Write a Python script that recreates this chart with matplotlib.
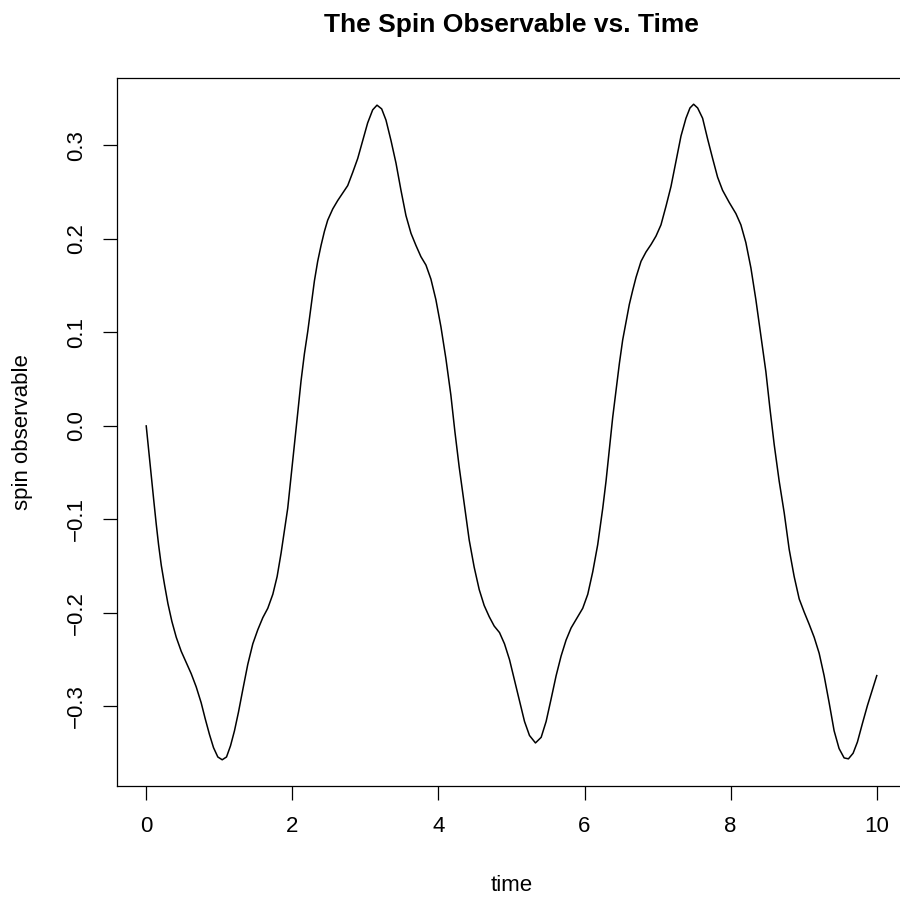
import matplotlib
matplotlib.use("Agg")
import matplotlib.pyplot as plt

time = [0.000, 0.032, 0.069, 0.105, 0.137, 0.169, 0.206, 0.251, 0.297, 0.351, 0.411,
        0.479, 0.547, 0.616, 0.684, 0.752, 0.807, 0.866, 0.921, 0.980, 1.040, 1.099,
        1.154, 1.208, 1.263, 1.322, 1.390, 1.459, 1.527, 1.596, 1.664, 1.733, 1.792,
        1.846, 1.892, 1.937, 1.983, 2.028, 2.074, 2.119, 2.165, 2.211, 2.256, 2.302,
        2.347, 2.393, 2.439, 2.484, 2.553, 2.621, 2.689, 2.758, 2.826, 2.895, 2.963,
        3.031, 3.100, 3.159, 3.223, 3.282, 3.351, 3.419, 3.487, 3.555, 3.624, 3.692,
        3.760, 3.829, 3.897, 3.965, 4.034, 4.102, 4.170, 4.225, 4.284, 4.353, 4.421,
        4.489, 4.558, 4.626, 4.695, 4.763,
        4.836, 4.904, 4.973, 5.041, 5.109, 5.178, 5.246, 5.328, 5.406, 5.474, 5.542,
        5.611, 5.679, 5.747, 5.816, 5.884, 5.975, 6.044, 6.112, 6.180, 6.249, 6.294,
        6.340, 6.385, 6.431, 6.477, 6.522, 6.568, 6.613, 6.659, 6.705, 6.773, 6.841,
        6.910, 6.978, 7.046, 7.115, 7.183, 7.251, 7.320, 7.388, 7.443, 7.493, 7.548,
        7.616, 7.684, 7.753, 7.821, 7.889, 7.980, 8.072, 8.140, 8.208, 8.277, 8.345,
        8.414, 8.482, 8.537, 8.596, 8.664, 8.733, 8.801, 8.869, 8.938, 9.006, 9.074,
        9.143, 9.211, 9.279, 9.348, 9.416, 9.484, 9.553, 9.612, 9.676, 9.735, 9.804,
        9.872, 9.940, 10.000]
spin = [0.000, -0.025, -0.054, -0.081, -0.105, -0.127, -0.149, -0.170, -0.190, -0.209, -0.226,
        -0.241, -0.253, -0.265, -0.279, -0.296, -0.313, -0.330, -0.344, -0.354, -0.357, -0.354,
        -0.342, -0.326, -0.306, -0.282, -0.255, -0.233, -0.218, -0.205, -0.195, -0.180, -0.161,
        -0.136, -0.112, -0.088, -0.054, -0.020, 0.014, 0.048, 0.077, 0.101, 0.128, 0.155,
        0.176, 0.193, 0.208, 0.220, 0.232, 0.241, 0.249, 0.257, 0.271, 0.286, 0.305,
        0.324, 0.338, 0.343, 0.339, 0.327, 0.305, 0.281, 0.252, 0.225, 0.206, 0.193,
        0.181, 0.172, 0.157, 0.135, 0.106, 0.072, 0.033, -0.006, -0.044, -0.083, -0.122,
        -0.151, -0.175, -0.192, -0.204, -0.214,
        -0.221, -0.233, -0.250, -0.272, -0.294, -0.316, -0.331, -0.339, -0.333, -0.316, -0.292,
        -0.267, -0.246, -0.229, -0.216, -0.207, -0.195, -0.180, -0.156, -0.127, -0.088, -0.059,
        -0.025, 0.009, 0.038, 0.067, 0.092, 0.111, 0.130, 0.145, 0.159, 0.176, 0.186,
        0.194, 0.203, 0.215, 0.235, 0.256, 0.283, 0.310, 0.329, 0.340, 0.344, 0.340,
        0.329, 0.307, 0.286, 0.266, 0.252, 0.239, 0.227, 0.215, 0.196, 0.169, 0.135,
        0.096, 0.058, 0.019, -0.020, -0.059, -0.093, -0.132, -0.161, -0.185, -0.199, -0.212,
        -0.226, -0.243, -0.267, -0.296, -0.326, -0.345, -0.355, -0.356, -0.350, -0.338, -0.318,
        -0.299, -0.282, -0.267]
xticks = [0, 2, 4, 6, 8, 10]
yticks = [-0.3, -0.2, -0.1, 0.0, 0.1, 0.2, 0.3]
ytick_labels = ["\u22120.3", "\u22120.2", "\u22120.1", "0.0", "0.1", "0.2", "0.3"]

plt.rcParams['font.family'] = ['Liberation Sans', 'DejaVu Sans']

W, H = 900, 899
L, R, T, B = 117, 906, 78, 786
fig = plt.figure(figsize=(W / 100, H / 100), dpi=100)
ax = fig.add_axes([L / W, 1 - B / H, (R - L) / W, (B - T) / H])
ax.plot(time, spin, color='black', lw=1.1)

xr = max(time) - min(time)
ax.set_xlim(min(time) - 0.04 * xr, max(time) + 0.04 * xr)
yr = max(spin) - min(spin)
ax.set_ylim(min(spin) - 0.04 * yr, max(spin) + 0.04 * yr)

ax.set_xticks(xticks)
ax.set_xticklabels([str(v) for v in xticks])
ax.set_yticks(yticks)
ax.set_yticklabels(ytick_labels, rotation=90, va='center')
ax.tick_params(axis='both', direction='out', length=10, width=0.9, labelsize=16, color='black')
ax.tick_params(axis='x', pad=11.5)
ax.tick_params(axis='y', pad=11.5)
for s in ax.spines.values():
    s.set_linewidth(0.9)
ax.spines['right'].set_visible(False)

fig.text(0.5 * (L + R) / W, 1 - 32 / H, "The Spin Observable vs. Time",
         ha='center', va='baseline', fontsize=19, fontweight='bold')
fig.text(0.5 * (L + R) / W, 1 - 891 / H, "time", ha='center', va='baseline', fontsize=16)
fig.text(23 / W, 1 - 0.5 * (T + B) / H, "spin observable", ha='center', va='center',
         rotation=90, fontsize=16)

fig.savefig("out.png", dpi=100)
